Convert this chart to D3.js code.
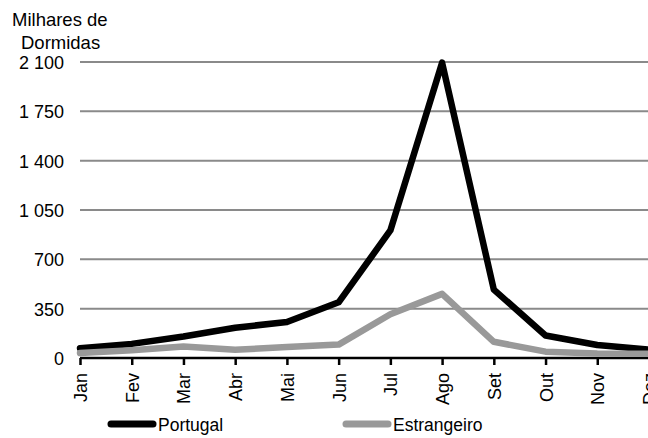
<!DOCTYPE html>
<html><head><meta charset="utf-8">
<script src="https://cdn.jsdelivr.net/npm/d3@7/dist/d3.min.js"></script>
<style>body{margin:0;background:#fff}svg{display:block}text{font-family:"Liberation Sans",Arial,sans-serif;fill:#000}</style>
</head><body><svg id="c" width="648" height="438"></svg>
<script>
const months = ["Jan","Fev","Mar","Abr","Mai","Jun","Jul","Ago","Set","Out","Nov","Dez"];
const portugal = [70,100,152,215,255,395,905,2095,485,160,92,60];
const estrangeiro = [35,55,82,58,78,95,310,455,115,45,32,30];
const yTicks = [0,350,700,1050,1400,1750,2100];
const seriesNames = ["Portugal","Estrangeiro"];

const svg = d3.select("#c");
const x = d3.scalePoint().domain(months).range([80, 649]);
const y = d3.scaleLinear().domain([0,2100]).range([358,62]);
const fmt = v => d3.format(",")(v).replace(/,/g," ");

// gridlines
svg.append("g").selectAll("line").data(yTicks.filter(d=>d>0)).join("line")
  .attr("x1",80).attr("x2",660).attr("y1",d=>y(d)).attr("y2",d=>y(d))
  .attr("stroke","#8a8a8a").attr("stroke-width",2);

// y labels
svg.append("g").selectAll("text").data(yTicks).join("text")
  .attr("x",64).attr("y",d=>y(d)+0.5).attr("dy","0.36em").attr("text-anchor","end")
  .attr("font-size",18).text(fmt);

// x axis
const xAxis = d3.axisBottom(x).tickSize(7).tickPadding(5);
const gx = svg.append("g").attr("transform","translate(0,358)").call(xAxis);
gx.select(".domain").attr("d","M80,0H660").attr("stroke","#000").attr("stroke-width",2.5);
gx.selectAll(".tick line").attr("stroke","#000").attr("stroke-width",2.5);
gx.selectAll(".tick text").attr("font-size",18).attr("fill","#000")
  .attr("font-family",'"Liberation Sans",Arial,sans-serif')
  .attr("transform","rotate(-90)").attr("text-anchor","end")
  .attr("x",-15).attr("y",0).attr("dy","0.36em");

// lines
const line = d3.line().x((d,i)=>x(months[i])).y(d=>y(d));
svg.append("path").datum(portugal).attr("d",line).attr("fill","none")
  .attr("stroke","#000").attr("stroke-width",6.5).attr("stroke-linejoin","round").attr("stroke-linecap","round");
svg.append("path").datum(estrangeiro).attr("d",line).attr("fill","none")
  .attr("stroke","#999").attr("stroke-width",6.5).attr("stroke-linejoin","round").attr("stroke-linecap","round");

// title
svg.append("text").attr("x",12).attr("y",26).attr("font-size",18.5).text("Milhares de");
svg.append("text").attr("x",21).attr("y",49).attr("font-size",18.5).text("Dormidas");

// legend
const leg = [{n:seriesNames[0],c:"#000",x:107},{n:seriesNames[1],c:"#999",x:342}];
const lg = svg.append("g").selectAll("g").data(leg).join("g");
lg.append("line").attr("x1",d=>d.x+4).attr("x2",d=>d.x+46).attr("y1",424).attr("y2",424)
  .attr("stroke",d=>d.c).attr("stroke-width",7).attr("stroke-linecap","round");
lg.append("text").attr("x",d=>d.x+51).attr("y",425).attr("dy","0.36em").attr("font-size",17.5).text(d=>d.n);
</script></body></html>
